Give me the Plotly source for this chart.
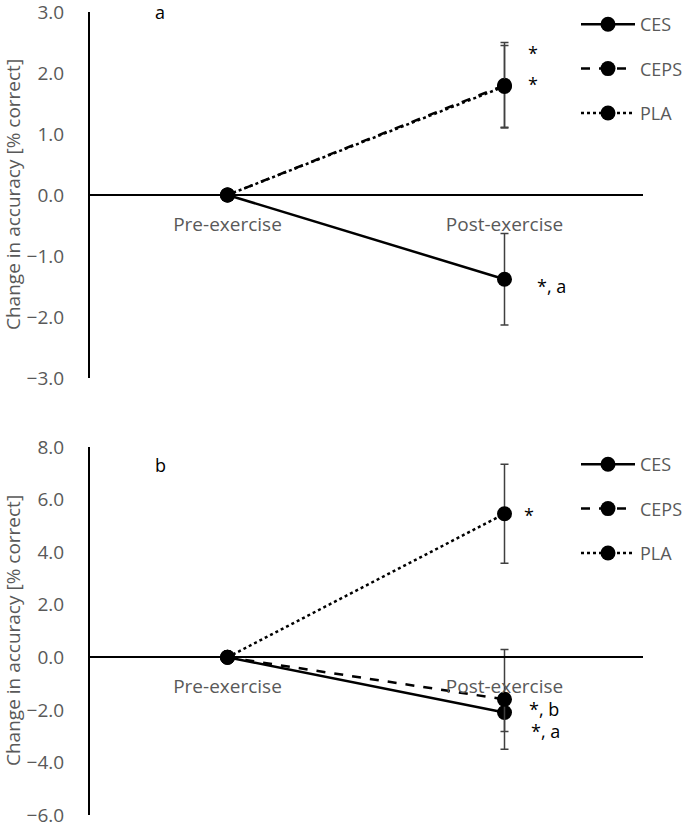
import plotly.graph_objects as go

categories = ["Pre-exercise", "Post-exercise"]
series_names = ["CES", "CEPS", "PLA"]
dashes = ["solid", "dash", "dot"]

# Panel a
a_values = {"CES": [0.0, -1.38], "CEPS": [0.0, 1.80], "PLA": [0.0, 1.78]}
a_errors = {"CES": [None, 0.75], "CEPS": [None, 0.70], "PLA": [None, 0.67]}
a_range = [-3, 3]
a_ticks = [-3, -2, -1, 0, 1, 2, 3]

# Panel b
b_values = {"CES": [0.0, -2.10], "CEPS": [0.0, -1.60], "PLA": [0.0, 5.46]}
b_errors = {"CES": [None, 0.72], "CEPS": [None, 1.90], "PLA": [None, 1.88]}
b_range = [-6, 8]
b_ticks = [-6, -4, -2, 0, 2, 4, 6, 8]

# significance notes: (text, category, y value)
a_notes = [("*", "Post-exercise", 2.33), ("*", "Post-exercise", 1.82), ("*, a", "Post-exercise", -1.49)]
b_notes = [("*", "Post-exercise", 5.40), ("*, b", "Post-exercise", -1.95), ("*, a", "Post-exercise", -2.82)]
a_note_shift = [21, 21, 30]
b_note_shift = [17, 22, 24]

W, H = 688, 828
FONT = "Open Sans"
GRAY = "#595959"

def px(x):
    return x / W

def py(y):
    return 1 - y / H

xdom = [px(89), px(643)]
a_dom = [py(378), py(12)]
b_dom = [py(815), py(447)]

fig = go.Figure()

def add_panel(values, errors, xa, ya, legend):
    for name, dash in zip(series_names, dashes):
        fig.add_trace(go.Scatter(
            x=categories, y=values[name], name=name,
            xaxis=xa, yaxis=ya, legend=legend, legendgroup=legend + name,
            mode="lines+markers",
            line=dict(color="black", width=2.5, dash=dash),
            marker=dict(color="black", size=15, symbol="circle"),
            error_y=dict(type="data", array=errors[name], visible=True,
                         color="#404040", thickness=1.5, width=4),
        ))

add_panel(a_values, a_errors, "x", "y", "legend")
add_panel(b_values, b_errors, "x2", "y2", "legend2")

def zero_pos(dom, rng):
    return dom[0] + (dom[1] - dom[0]) * (0 - rng[0]) / (rng[1] - rng[0])

tick_font = dict(family=FONT, size=19, color=GRAY)

xcommon = dict(type="category", range=[-0.5, 1.5], domain=xdom, anchor="free",
               showline=True, linecolor="black", linewidth=1.5, automargin=False,
               ticks="outside", ticklen=12, tickcolor="rgba(0,0,0,0)",
               showgrid=False, zeroline=False, tickfont=tick_font, fixedrange=True)
ycommon = dict(showline=True, linecolor="black", linewidth=2, anchor="free", position=xdom[0],
               automargin=False, ticks="outside", ticklen=20, tickcolor="rgba(0,0,0,0)",
               ticklabeloverflow="allow",
               showgrid=False, zeroline=False, tickfont=tick_font, tickformat=".1f")

legend_common = dict(xanchor="left", yanchor="top", bgcolor="rgba(0,0,0,0)",
                     tracegroupgap=18, itemwidth=54,
                     font=dict(family=FONT, size=18, color=GRAY))

fig.update_layout(
    width=W, height=H,
    margin=dict(l=0, r=0, t=0, b=0, autoexpand=False),
    paper_bgcolor="white", plot_bgcolor="white",
    font=dict(family=FONT, size=18, color=GRAY),
    showlegend=True,
    xaxis=dict(xcommon, position=zero_pos(a_dom, a_range)),
    xaxis2=dict(xcommon, position=zero_pos(b_dom, b_range)),
    yaxis=dict(ycommon, domain=a_dom, range=a_range, tickvals=a_ticks),
    yaxis2=dict(ycommon, domain=b_dom, range=b_range, tickvals=b_ticks),
    legend=dict(legend_common, x=px(576), y=py(6)),
    legend2=dict(legend_common, x=px(576), y=py(446)),
)

ann = []
note_font = dict(family=FONT, size=18, color="black")
for (text, cat, yv), sh in zip(a_notes, a_note_shift):
    ann.append(dict(text=text, x=cat, y=yv, xref="x", yref="y", showarrow=False,
                    xanchor="left", xshift=sh, font=note_font))
for (text, cat, yv), sh in zip(b_notes, b_note_shift):
    ann.append(dict(text=text, x=cat, y=yv, xref="x2", yref="y2", showarrow=False,
                    xanchor="left", xshift=sh, font=note_font))
# panel letters
ann.append(dict(text="a", x=px(160), y=py(12), xref="paper", yref="paper", showarrow=False,
                xanchor="center", yanchor="middle", font=note_font))
ann.append(dict(text="b", x=px(160), y=py(465), xref="paper", yref="paper", showarrow=False,
                xanchor="center", yanchor="middle", font=note_font))
# y-axis titles
for dom in (a_dom, b_dom):
    ann.append(dict(text="Change in accuracy [% correct]", x=px(13), y=(dom[0] + dom[1]) / 2,
                    xref="paper", yref="paper", showarrow=False, textangle=-90,
                    xanchor="center", yanchor="middle", font=dict(family=FONT, size=19, color=GRAY)))
fig.update_layout(annotations=ann)

fig.write_html("out.html", config={"displayModeBar": False},
               post_script="document.body.style.margin='0';document.body.style.padding='0';")
